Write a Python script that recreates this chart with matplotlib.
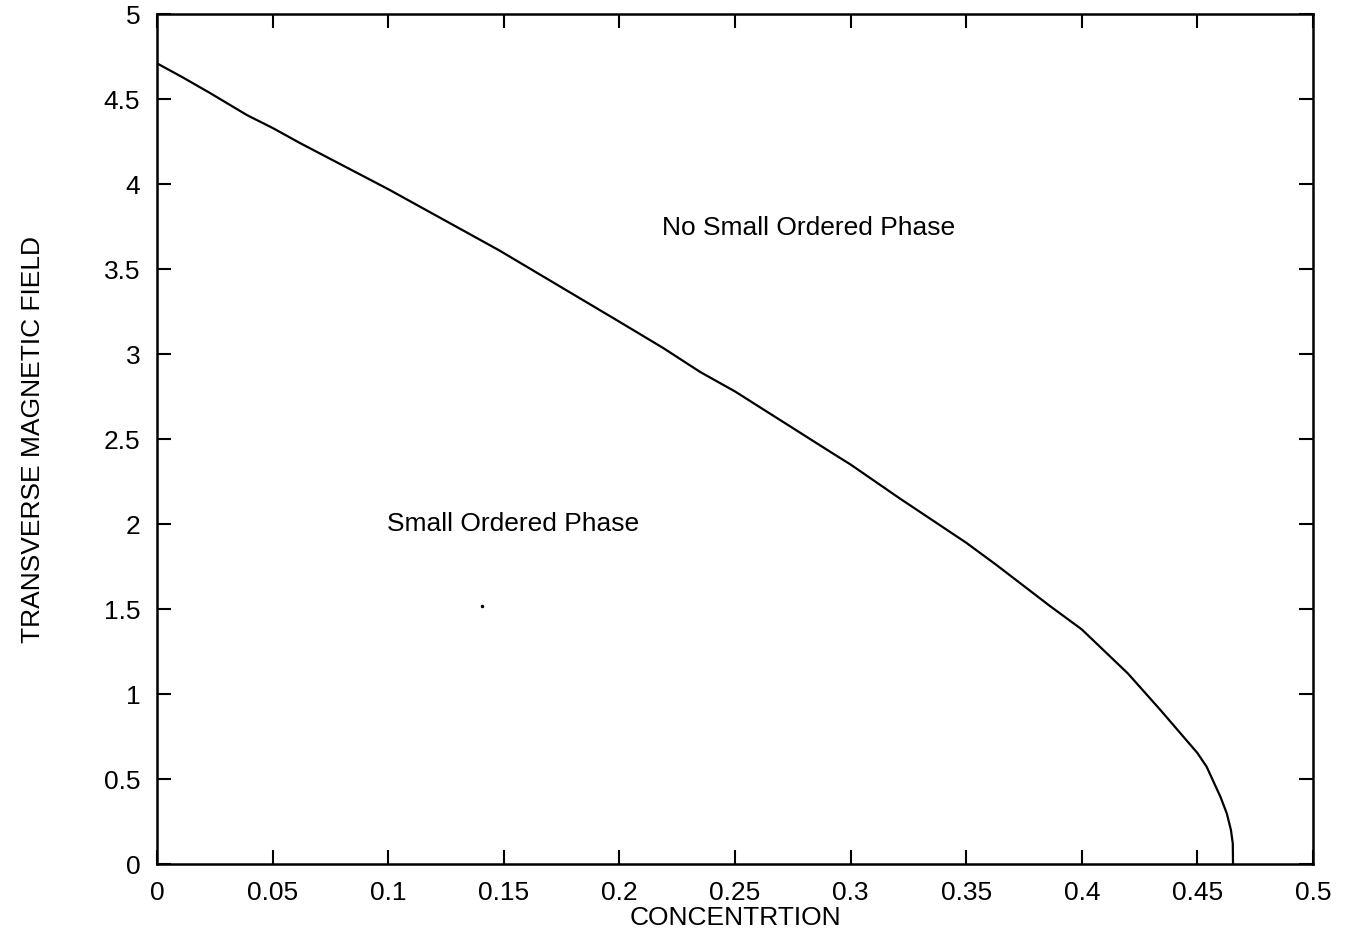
import numpy as np
import matplotlib.pyplot as plt

plt.rcParams['font.family'] = ['Liberation Sans', 'DejaVu Sans']

# phase boundary
conc = [0.0, 0.0108, 0.023, 0.039, 0.050, 0.062, 0.10, 0.148, 0.20, 0.219, 0.235,
        0.25, 0.292, 0.30, 0.321, 0.35, 0.363, 0.386, 0.40, 0.42, 0.434,
        0.45, 0.454, 0.46, 0.4627, 0.4645, 0.4653, 0.4654]
field = [4.71, 4.63, 4.535, 4.405, 4.33, 4.24, 3.97, 3.61, 3.19, 3.035, 2.894,
         2.78, 2.418, 2.35, 2.153, 1.89, 1.76, 1.52, 1.38, 1.12, 0.906,
         0.653, 0.572, 0.394, 0.298, 0.2, 0.12, 0.0]

xticks = [0, 0.05, 0.1, 0.15, 0.2, 0.25, 0.3, 0.35, 0.4, 0.45, 0.5]
xtick_labels = ['0', '0.05', '0.1', '0.15', '0.2', '0.25', '0.3', '0.35', '0.4', '0.45', '0.5']
yticks = [0, 0.5, 1, 1.5, 2, 2.5, 3, 3.5, 4, 4.5, 5]
ytick_labels = ['0', '0.5', '1', '1.5', '2', '2.5', '3', '3.5', '4', '4.5', '5']

fig = plt.figure(figsize=(13.46, 9.35), dpi=100)
ax = fig.add_axes([0.1166, 0.0759, 0.8589, 0.9091])
ax.plot(conc, field, color='black', linewidth=1.6)
ax.plot([0.1406], [1.52], 'o', color='black', markersize=1.5)  # speck in the scan

ax.text(0.282, 3.74, 'No Small Ordered Phase', fontsize=19, ha='center', va='center')
ax.text(0.154, 2.0, 'Small Ordered Phase', fontsize=19, ha='center', va='center')

ax.set_xlim(0, 0.5)
ax.set_ylim(0, 5)
ax.set_xticks(xticks)
ax.set_xticklabels(xtick_labels)
ax.set_yticks(yticks)
ax.set_yticklabels(ytick_labels)
ax.tick_params(direction='in', length=10, width=1.5, labelsize=19, pad=12,
               top=True, right=True)
for s in ax.spines.values():
    s.set_linewidth(1.8)

ax.set_xlabel('CONCENTRTION', fontsize=19, labelpad=1)
ax.set_ylabel('TRANSVERSE MAGNETIC FIELD', fontsize=19, labelpad=42)

plt.savefig('out.png', dpi=100)
